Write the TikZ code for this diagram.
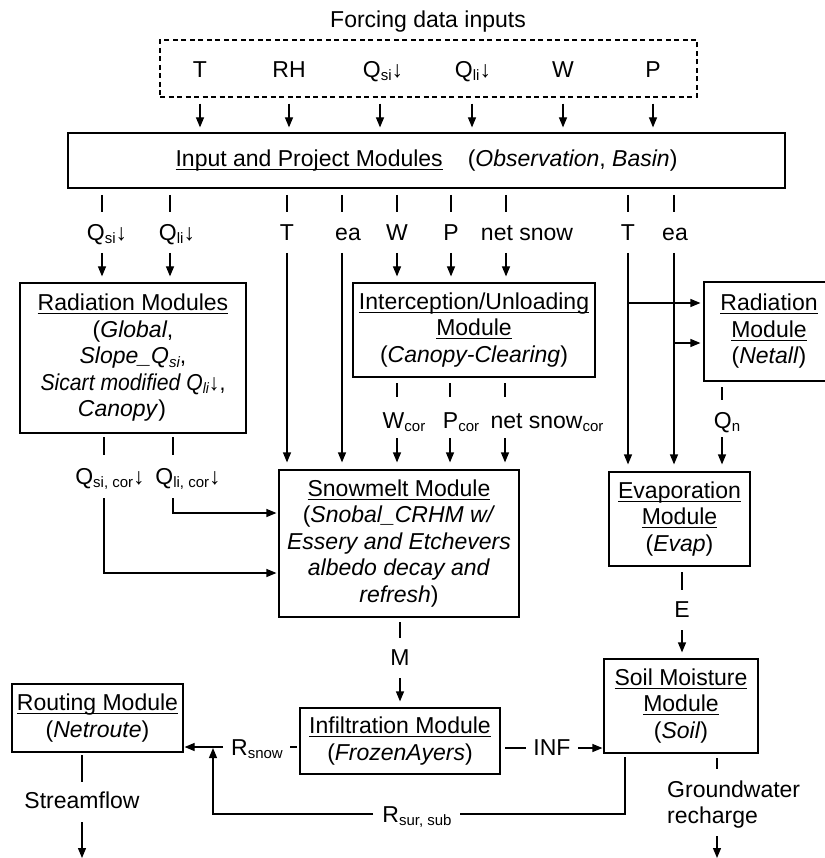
\documentclass[tikz,border=0pt]{standalone}
\usepackage{fontspec}
\usepackage{graphicx}
\setmainfont{Liberation Sans}
\usetikzlibrary{arrows.meta}
\newsavebox{\undlbox}
\newcommand{\undl}[1]{\leavevmode\sbox{\undlbox}{#1}\rlap{\rule[-3.2pt]{\wd\undlbox}{1.1pt}}\usebox{\undlbox}}
\newcommand{\lowtxt}[1]{\raisebox{-3.5pt}{\fontsize{15pt}{15pt}\selectfont #1}}
\begin{document}
\begin{tikzpicture}[x=1pt,y=-1pt,
  every node/.style={font=\fontsize{23pt}{26.5pt}\selectfont, inner sep=0pt},
  box/.style={draw, line width=1.2pt, align=center},
  ln/.style={line width=1.2pt},
  arr/.style={line width=1.2pt, -{Triangle[length=10pt,width=8pt]}},
  lbl/.style={anchor=base}]
\useasboundingbox (0,0) rectangle (824,858);

% forcing data
\node[lbl] (title) at (428,28) {Forcing data inputs};
\node[draw, line width=1.1pt, dash pattern=on 5pt off 3.5pt, minimum width=537pt, minimum height=57pt] (forc) at (428.5,68.5) {};
\node[lbl] (fT) at (200,77.5) {T};
\node[lbl] (fRH) at (289,77.5) {RH};
\node[lbl] (fQs) at (383,77.5) {Q\lowtxt{si}↓};
\node[lbl] (fQl) at (473,77.5) {Q\lowtxt{li}↓};
\node[lbl] (fW) at (563,77.5) {W};
\node[lbl] (fP) at (653,77.5) {P};

% boxes
\node[box, minimum width=717pt, minimum height=55pt] (inp) at (426.5,160.5)
  {\undl{Input and Project Modules}\hspace{25pt}(\textit{Observation}, \textit{Basin})};
\node[box, minimum width=226pt, minimum height=150pt] (rad) at (133,358)
  {\undl{Radiation Modules}\\(\textit{Global},\hspace*{30pt}\\\textit{Slope\_Q\lowtxt{si}},\\\scalebox{0.92}[1]{\textit{Sicart modified Q\lowtxt{li}}↓,}\\\textit{Canopy})\hspace*{22pt}};
\node[box, minimum width=242pt, minimum height=94pt] (intc) at (474,330)
  {\undl{Interception/Unloading}\\\undl{Module}\\(\textit{Canopy-Clearing})};
\node[box, minimum width=130pt, minimum height=99pt] (rrad) at (769,331.5)
  {\undl{Radiation}\\\undl{Module}\\(\textit{Netall})};
\node[box, minimum width=240pt, minimum height=147pt] (snow) at (399,543.5)
  {\undl{Snowmelt Module}\\(\textit{Snobal\_CRHM w/}\\\textit{Essery and Etchevers}\\\textit{albedo decay and}\\\textit{refresh})};
\node[box, minimum width=141pt, minimum height=94pt] (evap) at (679.5,519)
  {\undl{Evaporation}\\\undl{Module}\\(\textit{Evap})};
\node[box, minimum width=200pt, minimum height=66pt] (infil) at (400,741)
  {\undl{Infiltration Module}\\(\textit{FrozenAyers})};
\node[box, minimum width=154pt, minimum height=94pt] (soil) at (681,706)
  {\undl{Soil Moisture}\\\undl{Module}\\(\textit{Soil})};
\node[box, minimum width=171pt, minimum height=68pt] (rout) at (97.5,718)
  {\undl{Routing Module}\\(\textit{Netroute})};

% forcing -> input
\foreach \x in {200,289,380,472,563,653}
  \draw[arr, shorten <=6pt, shorten >=5pt] (\x,0 |- forc.south) -- (\x,0 |- inp.north);

% input -> second row labels
\node[lbl] (lQs) at (107,240.5) {Q\lowtxt{si}↓};
\node[lbl] (lQl) at (177,240.5) {Q\lowtxt{li}↓};
\node[lbl] (lT) at (287,240.5) {T};
\node[lbl] (lea) at (348,240.5) {ea};
\node[lbl] (lW) at (397,240.5) {W};
\node[lbl] (lP) at (451,240.5) {P};
\node[lbl] (lns) at (527,240.5) {net snow};
\node[lbl] (lT2) at (628,240.5) {T};
\node[lbl] (lea2) at (675,240.5) {ea};
\foreach \x in {102,170,287,342,397,451,506,628,674}
  \draw[ln] (\x,195) -- (\x,212);
\draw[arr, shorten >=6pt] (102,253) -- (102,0 |- rad.north);
\draw[arr, shorten >=6pt] (170,253) -- (170,0 |- rad.north);
\draw[arr, shorten >=6pt] (397,253) -- (397,0 |- intc.north);
\draw[arr, shorten >=6pt] (451,253) -- (451,0 |- intc.north);
\draw[arr, shorten >=6pt] (506,253) -- (506,0 |- intc.north);
\draw[arr, shorten >=7pt] (287,253) -- (287,0 |- snow.north);
\draw[arr, shorten >=7pt] (342,253) -- (342,0 |- snow.north);
\draw[arr, shorten >=7pt] (628,253) -- (628,0 |- evap.north);
\draw[arr, shorten >=7pt] (674,253) -- (674,0 |- evap.north);
\draw[arr, shorten >=3pt] (628,303) -- (rrad.west |- 0,303);
\draw[arr, shorten >=3pt] (674,343) -- (rrad.west |- 0,343);

% radiation modules -> snowmelt
\draw[ln] (104,437) -- (104,455);
\draw[ln] (173,437) -- (173,455);
\node[lbl] (lQsc) at (110,484) {Q\lowtxt{si, cor}↓};
\node[lbl] (lQlc) at (188,484) {Q\lowtxt{li, cor}↓};
\draw[arr, shorten >=2pt] (173,498) |- (snow.west |- 0,513);
\draw[arr, shorten >=2pt] (104,498) |- (snow.west |- 0,573);

% interception -> snowmelt
\foreach \x in {397,450,505}
  \draw[ln] (\x,383) -- (\x,397);
\node[lbl] (lWc) at (404,428) {W\lowtxt{cor}};
\node[lbl] (lPc) at (461,428) {P\lowtxt{cor}};
\node[lbl] (lnsc) at (547,428) {net snow\lowtxt{cor}};
\foreach \x in {397,450,505}
  \draw[arr, shorten >=7pt] (\x,438) -- (\x,0 |- snow.north);

% net radiation -> evaporation
\draw[ln] (722,387) -- (722,400);
\node[lbl] (lQn) at (727,428) {Q\lowtxt{n}};
\draw[arr, shorten >=7pt] (722,437) -- (722,0 |- evap.north);

% snowmelt -> infiltration
\draw[ln] (400,622) -- (400,638);
\node[lbl] (lM) at (400,665) {M};
\draw[arr, shorten >=6pt] (400,678) -- (400,0 |- infil.north);

% evaporation -> soil
\draw[ln] (682,572) -- (682,590);
\node[lbl] (lE) at (682,617) {E};
\draw[arr, shorten >=6pt] (682,630) -- (682,0 |- soil.north);

% infiltration -> soil
\draw[ln] (505,748) -- (526,748);
\node[lbl] (lINF) at (552,755) {INF};
\draw[arr, shorten >=1pt] (578,748) -- (soil.west |- 0,748);

% infiltration -> routing
\draw[ln] (290,747) -- (297,747);
\node[lbl] (lRs) at (257,755) {R\lowtxt{snow}};
\draw[arr, shorten >=1pt] (223,747) -- (rout.east |- 0,747);

% soil -> routing
\node[lbl] (lRss) at (417,822) {R\lowtxt{sur, sub}};
\draw[ln] (625,757) |- (460,814);
\draw[arr] (373,814) -| (213,748);

% outputs
\draw[ln] (82,755) -- (82,782);
\node[lbl] (lSF) at (82,808) {Streamflow};
\draw[arr] (82,822) -- (82,858);
\draw[ln] (717,758) -- (717,769);
\node[anchor=base west] (lGW1) at (667,797) {Groundwater};
\node[anchor=base west] (lGW2) at (667,823) {recharge};
\draw[arr] (717,836) -- (717,858);
\end{tikzpicture}
\end{document}
